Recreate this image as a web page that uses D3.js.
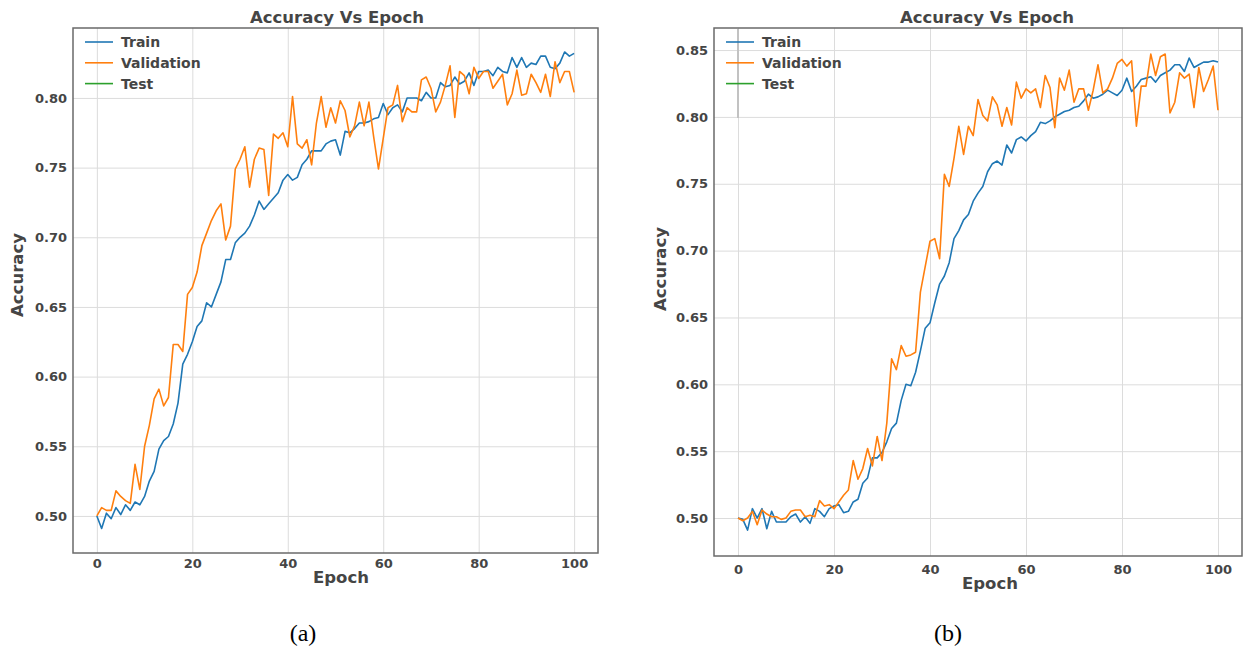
<!DOCTYPE html>
<html><head><meta charset="utf-8">
<script src="https://cdn.jsdelivr.net/npm/d3@7"></script>
<style>body{margin:0;background:#fff} svg{display:block}</style>
</head><body><svg id="c" width="1245" height="647"></svg>
<script>
// ---------- data ----------
const epochs = d3.range(0, 101);
const xTicks = [0, 20, 40, 60, 80, 100];
const seriesNames = ["Train", "Validation", "Test"];
const seriesColors = ["#1f77b4", "#ff7f0e", "#2ca02c"];
const chartTitle = "Accuracy Vs Epoch";
const xLabel = "Epoch";
const yLabel = "Accuracy";
const captions = ["(a)", "(b)"];

const yTicksA = [0.50, 0.55, 0.60, 0.65, 0.70, 0.75, 0.80];
const yTicksB = [0.50, 0.55, 0.60, 0.65, 0.70, 0.75, 0.80, 0.85];
const xLimits = [-5, 105];
const yLimitsA = [0.4734, 0.8502];
const yLimitsB = [0.4716, 0.8665];

const trainA = [
  .500,.491,.502,.498,.506,.501,.508,.504,.510,.508,
  .514,.525,.532,.548,.554,.557,.566,.581,.609,.616,
  .625,.636,.640,.653,.650,.659,.668,.684,.684,.696,
  .700,.703,.708,.716,.726,.720,.724,.728,.732,.741,
  .745,.741,.743,.752,.756,.762,.762,.762,.767,.769,
  .770,.759,.776,.775,.778,.782,.782,.783,.785,.786,
  .796,.788,.793,.795,.790,.800,.800,.800,.798,.804,
  .800,.800,.811,.808,.809,.815,.810,.812,.818,.809,
  .819,.819,.820,.816,.822,.819,.818,.829,.822,.829,
  .822,.825,.824,.830,.830,.822,.821,.825,.833,.830,
  .832];
const valA = [
  .500,.506,.504,.504,.518,.514,.511,.509,.537,.519,
  .550,.565,.584,.591,.579,.585,.623,.623,.618,.659,
  .664,.675,.694,.703,.712,.719,.724,.698,.708,.749,
  .756,.765,.736,.756,.764,.763,.730,.774,.771,.775,
  .765,.801,.767,.764,.770,.752,.782,.801,.779,.793,
  .782,.798,.791,.772,.780,.797,.780,.797,.772,.749,
  .771,.793,.795,.809,.783,.793,.790,.790,.813,.815,
  .807,.790,.797,.809,.823,.786,.819,.816,.803,.822,
  .814,.819,.819,.807,.812,.817,.795,.803,.820,.802,
  .803,.817,.811,.804,.817,.801,.826,.811,.819,.819,
  .804];
const testA = [];

const trainB = [
  .500,.499,.491,.507,.500,.507,.492,.505,.497,.497,
  .497,.501,.503,.497,.501,.496,.507,.505,.501,.507,
  .509,.510,.504,.505,.512,.514,.526,.530,.545,.545,
  .549,.557,.567,.571,.588,.600,.599,.609,.625,.642,
  .646,.661,.675,.681,.691,.709,.715,.723,.727,.737,
  .743,.748,.759,.765,.767,.764,.779,.773,.783,.785,
  .782,.786,.789,.796,.795,.797,.800,.802,.804,.805,
  .807,.808,.812,.817,.814,.815,.817,.820,.818,.816,
  .820,.829,.819,.823,.828,.829,.830,.826,.831,.833,
  .835,.839,.839,.834,.844,.837,.839,.841,.841,.842,
  .841];
const valB = [
  .500,.498,.500,.505,.495,.506,.503,.501,.501,.499,
  .500,.505,.506,.506,.501,.502,.501,.513,.509,.510,
  .507,.512,.517,.521,.543,.529,.537,.552,.539,.561,
  .543,.571,.619,.611,.629,.621,.622,.624,.669,.688,
  .707,.709,.694,.757,.748,.769,.793,.772,.793,.786,
  .813,.801,.797,.815,.809,.793,.807,.794,.826,.814,
  .821,.818,.821,.807,.831,.822,.792,.829,.820,.835,
  .811,.821,.821,.805,.820,.839,.818,.821,.829,.840,
  .843,.838,.842,.793,.823,.823,.847,.831,.845,.847,
  .803,.811,.833,.829,.832,.807,.837,.819,.828,.838,
  .805];
const testB = [];

// ---------- drawing ----------
const svg = d3.select("#c");
const FONT = "DejaVu Sans";
const TXT = "#454545";

function drawPanel(cfg) {
  const g = svg.append("g");
  const x = d3.scaleLinear().domain(xLimits).range([cfg.left, cfg.right]);
  const y = d3.scaleLinear().domain(cfg.ylim).range([cfg.bottom, cfg.top]);
  const H = cfg.bottom - cfg.top, W = cfg.right - cfg.left;

  // grid
  g.append("g").attr("transform", `translate(0,${cfg.bottom})`)
    .call(d3.axisBottom(x).tickValues(xTicks).tickSize(-H).tickFormat(""))
    .call(s => { s.select(".domain").remove(); s.selectAll("line").attr("stroke", "#dcdcdc").attr("stroke-width", 1); });
  g.append("g").attr("transform", `translate(${cfg.left},0)`)
    .call(d3.axisLeft(y).tickValues(cfg.yticks).tickSize(-W).tickFormat(""))
    .call(s => { s.select(".domain").remove(); s.selectAll("line").attr("stroke", "#dcdcdc").attr("stroke-width", 1); });
  if (cfg.darkGrid) {
    g.append("line").attr("x1", x(xTicks[0])).attr("x2", x(xTicks[0]))
      .attr("y1", cfg.top + 1).attr("y2", y(0.80) + 1)
      .attr("stroke", "#c2c2c2").attr("stroke-width", 2);
  }

  // lines
  const line = d3.line().x((d, i) => x(epochs[i])).y(d => y(d));
  cfg.series.forEach((vals, k) => {
    if (!vals.length) return;
    g.append("path").datum(vals).attr("d", line)
      .attr("fill", "none").attr("stroke", seriesColors[k])
      .attr("stroke-width", 1.6).attr("stroke-linejoin", "round");
  });

  // tick labels
  g.append("g").attr("transform", `translate(0,${cfg.bottom})`)
    .call(d3.axisBottom(x).tickValues(xTicks).tickSize(0).tickPadding(cfg.xpad).tickFormat(d3.format("d")))
    .call(s => { s.select(".domain").remove(); })
    .selectAll("text").attr("font-family", FONT).attr("font-weight", "bold").attr("font-size", 13).attr("fill", TXT);
  g.append("g").attr("transform", `translate(${cfg.left},0)`)
    .call(d3.axisLeft(y).tickValues(cfg.yticks).tickSize(0).tickPadding(6).tickFormat(d3.format(".2f")))
    .call(s => { s.select(".domain").remove(); })
    .selectAll("text").attr("font-family", FONT).attr("font-weight", "bold").attr("font-size", 13).attr("fill", TXT);

  // frame
  g.append("rect").attr("x", cfg.left).attr("y", cfg.top).attr("width", W).attr("height", H)
    .attr("fill", "none").attr("stroke", "#6a6a6a").attr("stroke-width", 1.5);

  // legend
  seriesNames.forEach((name, k) => {
    const ly = cfg.top + 14 + k * 20.8;
    g.append("line").attr("x1", cfg.left + 12).attr("x2", cfg.left + 40)
      .attr("y1", ly).attr("y2", ly).attr("stroke", seriesColors[k]).attr("stroke-width", 1.6);
    g.append("text").attr("x", cfg.left + 48).attr("y", ly + 5)
      .attr("font-family", FONT).attr("font-weight", "bold").attr("font-size", 14).attr("fill", TXT).text(name);
  });

  // title and labels
  g.append("text").attr("x", cfg.titleX).attr("y", 23).attr("text-anchor", "middle")
    .attr("font-family", FONT).attr("font-weight", "bold").attr("font-size", 16.5).attr("fill", TXT).text(chartTitle);
  g.append("text").attr("x", cfg.xlabX).attr("y", cfg.xlabY).attr("text-anchor", "middle")
    .attr("font-family", FONT).attr("font-weight", "bold").attr("font-size", 16.5).attr("fill", TXT).text(xLabel);
  g.append("text").attr("transform", `translate(${cfg.ylabX},${cfg.ylabY}) rotate(-90)`).attr("text-anchor", "middle")
    .attr("font-family", FONT).attr("font-weight", "bold").attr("font-size", 16.5).attr("fill", TXT).text(yLabel);
  g.append("text").attr("x", cfg.capX).attr("y", 641).attr("text-anchor", "middle")
    .attr("font-family", "Liberation Serif").attr("font-size", 24).attr("fill", "#000").text(cfg.caption);
}

drawPanel({left: 73, right: 598, top: 28, bottom: 553, ylim: yLimitsA, yticks: yTicksA,
  series: [trainA, valA, testA], xpad: 6, titleX: 337, xlabX: 341, xlabY: 583,
  ylabX: 23, ylabY: 275, capX: 303, caption: captions[0], darkGrid: false});
drawPanel({left: 714, right: 1242, top: 28, bottom: 556, ylim: yLimitsB, yticks: yTicksB,
  series: [trainB, valB, testB], xpad: 9, titleX: 987, xlabX: 990, xlabY: 589,
  ylabX: 666, ylabY: 269, capX: 948, caption: captions[1], darkGrid: true});
</script></body></html>
